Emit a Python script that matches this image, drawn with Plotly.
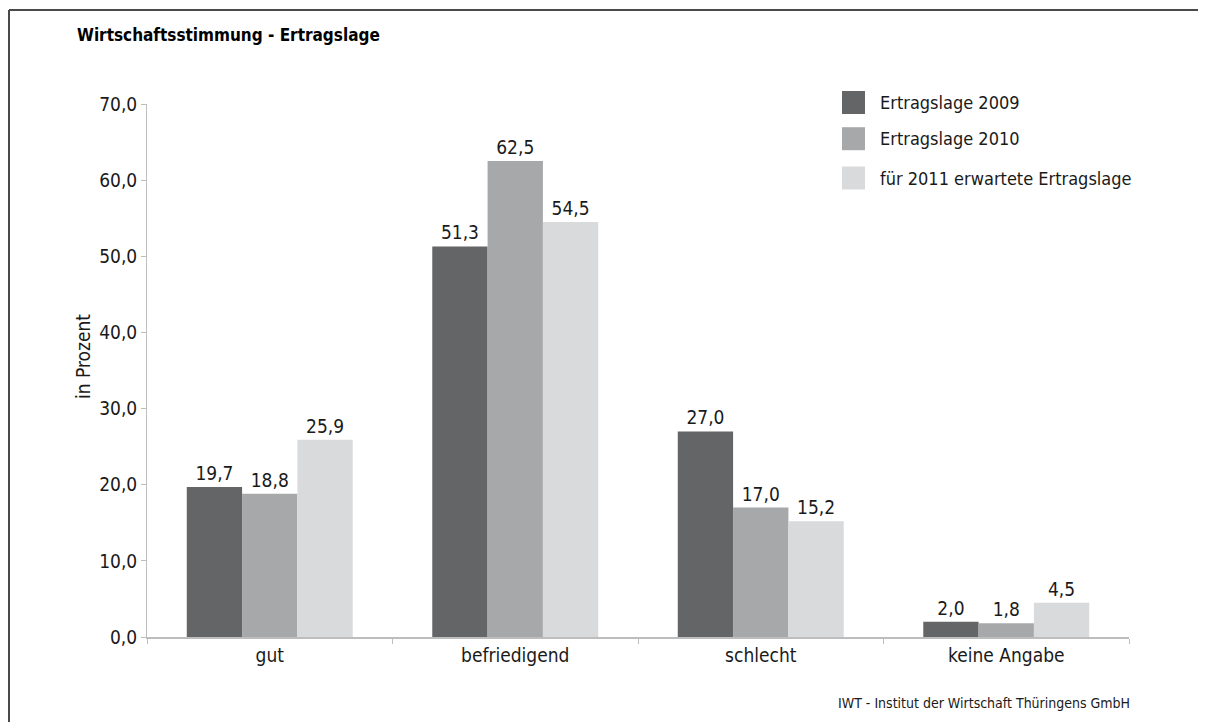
import plotly.graph_objects as go

categories = ["gut", "befriedigend", "schlecht", "keine Angabe"]
series_names = ["Ertragslage 2009", "Ertragslage 2010", "für 2011 erwartete Ertragslage"]
werte_2009 = [19.7, 51.3, 27.0, 2.0]
werte_2010 = [18.8, 62.5, 17.0, 1.8]
werte_2011 = [25.9, 54.5, 15.2, 4.5]
y_ticks = [0, 10, 20, 30, 40, 50, 60, 70]

colors = ["#646567", "#a7a8aa", "#d9dadc"]
FONT = "Liberation Sans Narrow, Arial Narrow, DejaVu Sans Condensed, sans-serif"
TXT = "#1a1a1a"

# page pixels of the plot area; the page body adds an 8px offset
OFF = 8
L, R, T, B = 147, 1129, 104, 637
W, H = 1206, 722


def px(x):
    return (x - L) / (R - L)


def py(y):
    return (B - y) / (B - T)


def fmt(v):
    return f"{v:.1f}".replace(".", ",")


fig = go.Figure()
for name, vals, col in zip(series_names, [werte_2009, werte_2010, werte_2011], colors):
    fig.add_trace(go.Bar(
        x=categories, y=vals, name=name,
        marker=dict(color=col, line=dict(width=0)),
        text=[fmt(v) for v in vals],
        textposition="outside",
        textfont=dict(family=FONT, size=19, color=TXT),
        cliponaxis=False,
        showlegend=False,
    ))

# legend drawn by hand (large square swatches)
leg_y = [102.5, 138.7, 178]
shapes = []
annotations = []
for name, col, yc in zip(series_names, colors, leg_y):
    shapes.append(dict(type="rect", xref="paper", yref="paper",
                       x0=px(842), x1=px(865), y0=py(yc - 11.5), y1=py(yc + 11.5),
                       fillcolor=col, line=dict(width=0)))
    annotations.append(dict(text=name, xref="paper", yref="paper",
                            x=px(878), y=py(yc), xanchor="left", yanchor="middle",
                            showarrow=False, font=dict(family=FONT, size=18, color=TXT)))

# outer frame (top and left edges visible)
shapes.append(dict(type="line", xref="paper", yref="paper",
                   x0=px(9), x1=px(W), y0=py(10), y1=py(10),
                   line=dict(color="#4a4a4a", width=2)))
shapes.append(dict(type="line", xref="paper", yref="paper",
                   x0=px(9), x1=px(9), y0=py(10), y1=py(H),
                   line=dict(color="#4a4a4a", width=2)))

annotations.append(dict(text="<b>Wirtschaftsstimmung - Ertragslage</b>", xref="paper", yref="paper",
                        x=px(75), y=py(35), xanchor="left", yanchor="middle", showarrow=False,
                        font=dict(family=FONT, size=17, color="#000000")))
annotations.append(dict(text="in Prozent", xref="paper", yref="paper",
                        x=px(83), y=py(357), xanchor="center", yanchor="middle",
                        textangle=-90, showarrow=False,
                        font=dict(family=FONT, size=19, color=TXT)))
annotations.append(dict(text="IWT - Institut der Wirtschaft Thüringens GmbH", xref="paper", yref="paper",
                        x=px(1132), y=py(703), xanchor="right", yanchor="middle", showarrow=False,
                        font=dict(family=FONT, size=14, color=TXT)))

fig.update_layout(
    width=W - OFF, height=H - OFF,
    margin=dict(l=L - OFF, r=W - R, t=T - OFF, b=H - B, pad=0),
    paper_bgcolor="white", plot_bgcolor="white",
    barmode="group", bargap=0.324, bargroupgap=0,
    shapes=shapes, annotations=annotations,
    font=dict(family=FONT, color=TXT),
)
fig.update_yaxes(
    range=[0, 70], tickvals=y_ticks, ticktext=[fmt(v) for v in y_ticks],
    showgrid=False, zeroline=False, showline=True, linecolor="#bdbdbd", linewidth=1,
    ticks="outside", ticklen=5, tickcolor="#bdbdbd",
    tickfont=dict(family=FONT, size=19, color=TXT),
)
fig.update_xaxes(
    showgrid=False, showline=True, linecolor="#bdbdbd", linewidth=2,
    ticks="outside", ticklen=5, tickcolor="#bdbdbd", tickson="boundaries",
    tickfont=dict(family=FONT, size=19, color=TXT),
)

fig.write_html("out.html")
